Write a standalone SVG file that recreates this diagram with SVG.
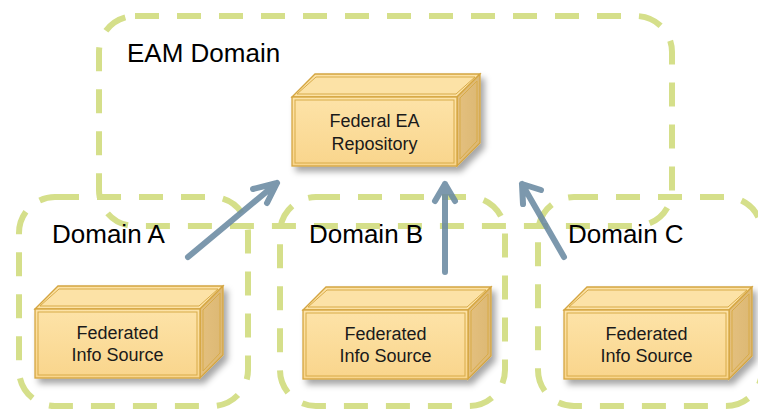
<svg xmlns="http://www.w3.org/2000/svg" xmlns:xlink="http://www.w3.org/1999/xlink" width="758" height="410" viewBox="0 0 758 410">
  <style>
    .dom { fill: none; stroke: #d5df8a; stroke-width: 6; stroke-dasharray: 24 18; }
    .dlabel { font-family: "Liberation Sans", Arial, sans-serif; font-size: 26px; fill: #000; }
    .clabel { font-family: "Liberation Sans", Arial, sans-serif; font-size: 18px; fill: #1a1a1a; text-anchor: middle; }
    .arrow { fill: none; stroke: #6a8aa2; stroke-width: 6; stroke-linecap: round; stroke-linejoin: round; opacity: 0.88; }
    .edge { stroke: #d4a540; stroke-width: 1.3; }
    .inner { fill: none; stroke: #d8ab48; stroke-width: 1; }
  </style>
  <defs>
    <linearGradient id="gFront" x1="0" y1="0" x2="0" y2="1">
      <stop offset="0" stop-color="#fde3a8"/>
      <stop offset="1" stop-color="#f9d58c"/>
    </linearGradient>
    <linearGradient id="gSide" x1="0" y1="0" x2="1" y2="0">
      <stop offset="0" stop-color="#e4c07e"/>
      <stop offset="1" stop-color="#dcb874"/>
    </linearGradient>
    <filter id="sh" x="-10%" y="-10%" width="125%" height="135%">
      <feDropShadow dx="4" dy="5" stdDeviation="3" flood-color="#000" flood-opacity="0.35"/>
    </filter>
    <g id="cube">
      <g filter="url(#sh)">
        <polygon class="edge" fill="#fce2a6" points="0,23 23,0 188,0 165,23"/>
        <polygon class="edge" fill="url(#gSide)" points="165,23 188,0 188,69 165,92"/>
        <rect class="edge" fill="url(#gFront)" x="0" y="23" width="165" height="69"/>
      </g>
      <polygon class="inner" points="5,20 24,3 183,3 164,20"/>
      <polygon class="inner" points="168,24 185,7 185,67 168,85"/>
      <rect class="inner" x="3" y="26" width="159" height="63"/>
    </g>
  </defs>
  <rect width="758" height="410" fill="#fff"/>

  <g id="domains">
    <g id="eam-domain">
      <rect class="dom" x="99" y="16" width="573" height="210" rx="36" ry="36"/>
      <text class="dlabel" x="127" y="62">EAM Domain</text>
    </g>
    <g id="domain-a">
      <rect class="dom" x="19" y="197" width="229" height="209" rx="36" ry="36"/>
      <text class="dlabel" x="52" y="243">Domain A</text>
    </g>
    <g id="domain-b">
      <rect class="dom" x="280" y="197" width="225" height="209" rx="36" ry="36"/>
      <text class="dlabel" x="309" y="243">Domain B</text>
    </g>
    <g id="domain-c">
      <rect class="dom" x="538" y="197" width="224" height="209" rx="36" ry="36"/>
      <text class="dlabel" x="568" y="243">Domain C</text>
    </g>
  </g>

  <g id="repository" transform="translate(292,74)">
    <use xlink:href="#cube" href="#cube"/>
    <text class="clabel" x="82.5" y="53">Federal EA</text>
    <text class="clabel" x="82.5" y="76">Repository</text>
  </g>
  <g id="source-a" transform="translate(35,286)">
    <use xlink:href="#cube" href="#cube"/>
    <text class="clabel" x="82.5" y="53">Federated</text>
    <text class="clabel" x="82.5" y="75">Info Source</text>
  </g>
  <g id="source-b" transform="translate(303,287)">
    <use xlink:href="#cube" href="#cube"/>
    <text class="clabel" x="82.5" y="53">Federated</text>
    <text class="clabel" x="82.5" y="75">Info Source</text>
  </g>
  <g id="source-c" transform="translate(564,287)">
    <use xlink:href="#cube" href="#cube"/>
    <text class="clabel" x="82.5" y="53">Federated</text>
    <text class="clabel" x="82.5" y="75">Info Source</text>
  </g>

  <g id="connectors">
    <path class="arrow" d="M188,257 L277,183 M253,189 L277,183 L267,203"/>
    <path class="arrow" d="M445,272 L445,184 M435,201 L445,184 L455,201"/>
    <path class="arrow" d="M564,257 L522,184 M522,184 L541,190 M522,184 L523,204"/>
  </g>
</svg>
